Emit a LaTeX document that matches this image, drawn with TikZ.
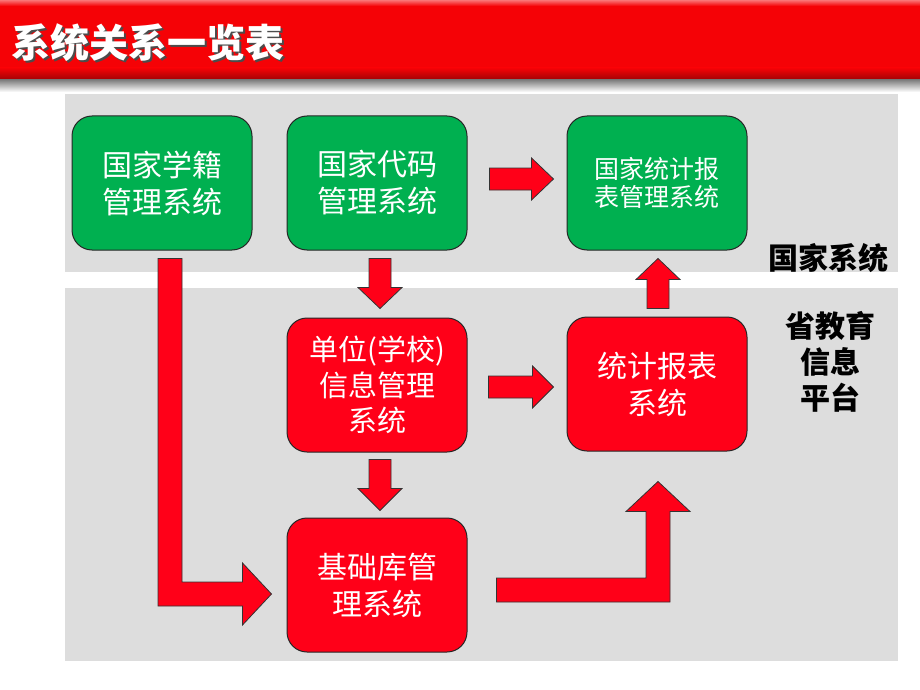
\documentclass[tikz,border=0pt]{standalone}
\usepackage{fontspec}
\newfontfamily\cjk{Noto Sans CJK SC}
\usetikzlibrary{calc}
\definecolor{boxgreen}{RGB}{0,176,80}
\definecolor{boxred}{RGB}{255,0,24}
\definecolor{arrred}{RGB}{255,0,24}
\definecolor{panelgray}{RGB}{221,221,221}
\definecolor{titlered}{RGB}{245,2,6}
% block arrows: tail centre, shaft length, head length
\newcommand{\blockR}[3]{\draw[blockarr] ($#1+(0,-11)$) -- ++(#2,0) -- ++(0,-10) -- ++(#3,21) -- ++(-#3,21) -- ++(0,-10) -- ++(-#2,0) -- cycle;}
\newcommand{\blockD}[3]{\draw[blockarr] ($#1+(-11,0)$) -- ++(0,#2) -- ++(-11,0) -- ++(22,#3) -- ++(22,-#3) -- ++(-11,0) -- ++(0,-#2) -- cycle;}
\newcommand{\blockU}[3]{\draw[blockarr] ($#1+(-11,0)$) -- ++(0,-#2) -- ++(-11,0) -- ++(22,-#3) -- ++(22,#3) -- ++(-11,0) -- ++(0,#2) -- cycle;}

\begin{document}
\begin{tikzpicture}[x=0.5pt,y=-0.5pt,
  sysbox/.style={draw=black!85, line width=0.5pt, rounded corners=10pt, minimum width=90pt,
    minimum height=67pt, inner sep=0pt, text=white, align=center,
    font=\cjk\fontsize{15pt}{18.5pt}\selectfont},
  natbox/.style={sysbox, fill=boxgreen},
  provbox/.style={sysbox, fill=boxred},
  blockarr/.style={fill=arrred, draw=black!80, line width=0.4pt, line join=miter},
  side/.style={align=center, font=\cjk\bfseries\fontsize{15pt}{18pt}\selectfont},
  heading/.style={anchor=west, inner sep=0pt, font=\cjk\bfseries\fontsize{19.5pt}{20pt}\selectfont}]
\useasboundingbox (0,0) rectangle (920,690);

% title bar
\fill[titlered] (0,0) rectangle (920,80);
\shade[top color=titlered!55!white, bottom color=titlered] (0,0) rectangle (920,6);
\shade[top color=titlered, bottom color=titlered!65!black] (0,68) rectangle (920,80);
\shade[top color=black!50, bottom color=white] (0,80) rectangle (920,92);
\node[heading, text=black!70] (titleshadow) at (13,45) {系统关系一览表};
\node[heading, text=white] (title) at (11,43) {系统关系一览表};

% panels
\fill[panelgray] (65,94) rectangle (898,272);
\fill[panelgray] (65,288) rectangle (898,661);
\node[side] (guojia) at (828,258) {国家系统};
\node[side] (shengji) at (830,362) {省教育\\信息\\平台};

% systems
\node[natbox] (xueji) at (162,183) {国家学籍\\管理系统};
\node[natbox] (daima) at (377,183) {国家代码\\管理系统};
\node[natbox, font=\cjk\fontsize{12.5pt}{14pt}\selectfont] (tjnat) at (657,183) {国家统计报\\表管理系统};
\node[provbox, font=\cjk\fontsize{14.5pt}{17.75pt}\selectfont] (danwei) at (377,385) {单位(学校)\\信息管理\\系统};
\node[provbox] (tongji) at (657,384) {统计报表\\系统};
\node[provbox] (jichu) at (377,585) {基础库管\\理系统};

% straight arrows
\blockR{(daima.east)+(22,-4)}{42}{22}
\blockR{(danwei.east)+(21,2)}{44}{21}
\blockD{(daima.south)+(3,8)}{29}{21}
\blockD{(danwei.south)+(3,7)}{29}{22}
\blockU{(tongji.north)+(1,-8)}{29}{21}

% bent arrows
\coordinate (lt) at ($(xueji.south)+(8,8)$);
\coordinate (lh) at ($(jichu.west)+(-15,9)$);
\draw[blockarr] ($(lt)+(-12,0)$) -- ($(lt)+(12,0)$) -- ($(lt |- lh)+(12,-12)$) -- ($(lh)+(-29,-12)$)
  -- ($(lh)+(-29,-31)$) -- (lh) -- ($(lh)+(-29,31)$) -- ($(lh)+(-29,12)$) -- ($(lt |- lh)+(-12,12)$) -- cycle;
\coordinate (rt) at ($(jichu.east)+(29,5)$);
\coordinate (rh) at ($(tongji.south)+(1,30)$);
\draw[blockarr] ($(rt)+(0,-12)$) -- ($(rh |- rt)+(-12,-12)$) -- ($(rh)+(-12,30)$) -- ($(rh)+(-32,30)$)
  -- (rh) -- ($(rh)+(32,30)$) -- ($(rh)+(12,30)$) -- ($(rh |- rt)+(12,12)$) -- ($(rt)+(0,12)$) -- cycle;
\end{tikzpicture}
\end{document}
